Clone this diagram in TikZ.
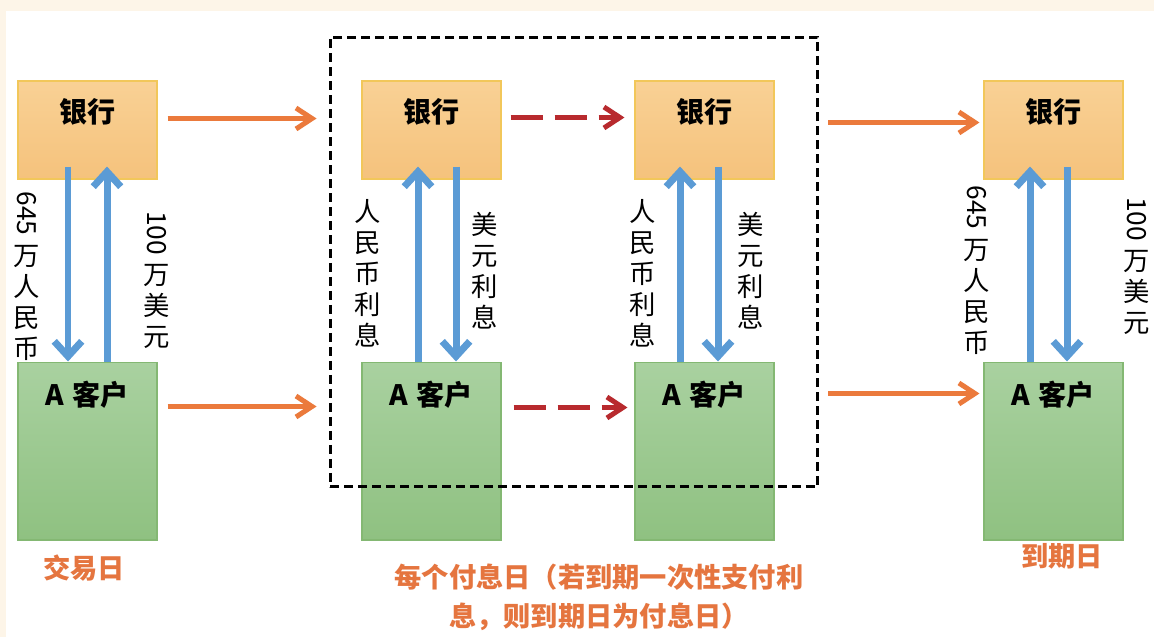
\documentclass[tikz,border=0pt]{standalone}
\usepackage{fontspec}
\usepackage{graphicx}
\usetikzlibrary{calc,arrows.meta}
\newfontfamily\cjk{Noto Sans CJK SC}
\definecolor{creamBg}{HTML}{FDF5E8}
\definecolor{bankTop}{HTML}{F9D195}
\definecolor{bankBot}{HTML}{F5C27C}
\definecolor{bankLine}{HTML}{F2C75A}
\definecolor{clientTop}{HTML}{A9D1A0}
\definecolor{clientBot}{HTML}{8FC181}
\definecolor{clientLine}{HTML}{84B873}
\definecolor{flowBlue}{HTML}{5B9BD5}
\definecolor{flowOrange}{HTML}{EB7A3C}
\definecolor{flowRed}{HTML}{B82A2E}
\definecolor{dayOrange}{HTML}{E5753F}
\newcommand{\tikzBankNode}[2]{
  \node[bankbox] (#1) at (#2) {};
  \node[boxtext] (#1t) at ($(#1.north)+(0,31)$) {银行};
}
\newcommand{\tikzClientNode}[2]{
  \node[clientbox] (#1) at (#2) {};
  \node[boxtext] (#1t) at ($(#1.north)+(0,33)$) {A\hspace{0.3em}客户};
}
\begin{document}
\begin{tikzpicture}[x=0.02cm,y=-0.02cm,semithick,
  bankbox/.style={draw=bankLine,top color=bankTop,bottom color=bankBot,inner sep=0pt,minimum width=2.78cm,minimum height=1.96cm},
  clientbox/.style={draw=clientLine,top color=clientTop,bottom color=clientBot,inner sep=0pt,minimum width=2.78cm,minimum height=3.56cm},
  boxtext/.style={font=\cjk\bfseries\fontsize{16pt}{18pt}\selectfont,inner sep=0pt},
  flowtext/.style={font=\cjk\fontsize{15pt}{17.6pt}\selectfont,align=center,inner sep=0pt},
  daytext/.style={font=\cjk\bfseries\fontsize{15.5pt}{22pt}\selectfont,text=dayOrange,align=center,inner sep=0pt},
  bluearrow/.style={draw=flowBlue,line width=0.14cm,-{Straight Barb[length=0.3cm,width=0.55cm]}},
  orangearrow/.style={draw=flowOrange,line width=0.1cm,-{Straight Barb[length=0.32cm,width=0.42cm]}},
  redarrow/.style={draw=flowRed,line width=0.1cm,dash pattern=on 0.64cm off 0.24cm,-{Straight Barb[length=0.32cm,width=0.42cm]}},
  periodbox/.style={draw=black,line width=0.06cm,dash pattern=on 0.18cm off 0.1cm,inner sep=0pt,minimum width=9.76cm,minimum height=9cm}]

  \fill[creamBg] (0,0) rectangle (1154,637);
  \fill[white] (6,11) rectangle (1154,637);
  \useasboundingbox (0,0) rectangle (1154,637);

  % banks and clients
  \tikzBankNode{bank1}{87.5,130}
  \tikzBankNode{bank2}{431.5,130}
  \tikzBankNode{bank3}{704.5,130}
  \tikzBankNode{bank4}{1053.5,130}
  \tikzClientNode{client1}{87.5,451}
  \tikzClientNode{client2}{431.5,451}
  \tikzClientNode{client3}{704.5,451}
  \tikzClientNode{client4}{1053.5,451}

  \node[periodbox] (period) at (574,262) {};

  % exchange of principal and interest
  \draw[bluearrow] ($(bank1.south)+(-19.5,-13)$) -- ($(client1.north)+(-19.5,0)$);
  \draw[bluearrow] ($(client1.north)+(19.5,0)$) -- ($(bank1.south)+(19.5,-13)$);
  \draw[bluearrow] ($(client2.north)+(-13.5,0)$) -- ($(bank2.south)+(-13.5,-13)$);
  \draw[bluearrow] ($(bank2.south)+(24.5,-13)$) -- ($(client2.north)+(24.5,0)$);
  \draw[bluearrow] ($(client3.north)+(-24.5,0)$) -- ($(bank3.south)+(-24.5,-13)$);
  \draw[bluearrow] ($(bank3.south)+(13.5,-13)$) -- ($(client3.north)+(13.5,0)$);
  \draw[bluearrow] ($(client4.north)+(-23.5,0)$) -- ($(bank4.south)+(-23.5,-13)$);
  \draw[bluearrow] ($(bank4.south)+(13.5,-13)$) -- ($(client4.north)+(13.5,0)$);

  \node[flowtext] (rmb1) at (27,276) {\rotatebox{-90}{645\hspace{0.3em}}\\万\\人\\民\\币};
  \node[flowtext] (usd1) at (157,280) {\rotatebox{-90}{100\hspace{0.3em}}\\万\\美\\元};
  \node[flowtext] (rmb2) at (368,273) {人\\民\\币\\利\\息};
  \node[flowtext] (usd2) at (485,271) {美\\元\\利\\息};
  \node[flowtext] (rmb3) at (643,273) {人\\民\\币\\利\\息};
  \node[flowtext] (usd3) at (751,271) {美\\元\\利\\息};
  \node[flowtext] (rmb4) at (977,270) {\rotatebox{-90}{645\hspace{0.3em}}\\万\\人\\民\\币};
  \node[flowtext] (usd4) at (1137,266) {\rotatebox{-90}{100\hspace{0.3em}}\\万\\美\\元};

  % time line
  \draw[orangearrow] ($(bank1.north east)+(10,38)$) -- ($(period.west |- bank1.north)+(-12,38)$);
  \draw[orangearrow] ($(client1.north east)+(10,45)$) -- ($(period.west |- client1.north)+(-12,45)$);
  \draw[redarrow] ($(bank2.north east)+(9,37)$) -- ($(bank3.north west)+(-10,37)$);
  \draw[redarrow] ($(client2.north east)+(12,46)$) -- ($(client3.north west)+(-7,46)$);
  \draw[orangearrow] ($(period.east |- bank4.north)+(9,42)$) -- ($(bank4.north west)+(-4,42)$);
  \draw[orangearrow] ($(period.east |- client4.north)+(9,32)$) -- ($(client4.north west)+(-4,32)$);

  \node[daytext] (tradeday) at (84,568) {交易日};
  \node[daytext] (payday) at (599,597) {每个付息日（若到期一次性支付利\\息，则到期日为付息日）};
  \node[daytext] (maturity) at (1062,556) {到期日};

\end{tikzpicture}
\end{document}
